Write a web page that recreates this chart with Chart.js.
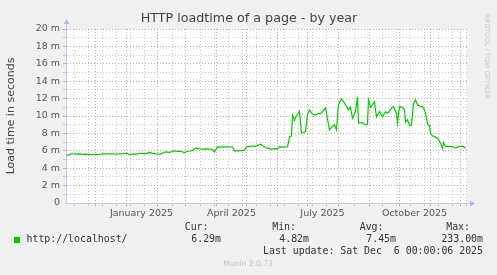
<!DOCTYPE html>
<html>
<head>
<meta charset="utf-8">
<script src="https://cdn.jsdelivr.net/npm/chart.js@4.4.0/dist/chart.umd.min.js"></script>
<style>
  html, body { margin: 0; padding: 0; background: #f0f0f0; }
  canvas { display: block; }
</style>
</head>
<body>
<canvas id="chart" width="497" height="275"></canvas>
<script>
// x = days since 1 Nov 2024, y = load time in milliseconds
const days = [
  1, 3, 5, 7, 10, 14, 17, 20, 24, 27, 30, 33, 37, 40, 44, 47, 50, 54, 57, 60,
  62, 64, 67, 70, 74, 77, 80, 84, 87, 90, 95, 98, 100, 104, 107, 109, 112, 114, 117, 119,
  122, 125, 128, 130, 134, 137, 141, 144, 147, 149, 150, 152, 156, 160, 164, 167, 169, 172, 175, 179,
  181, 184, 187, 190, 192, 195, 197, 198, 200, 202, 205, 207, 210, 212, 214, 218, 222, 224, 226, 227,
  229, 230, 232, 234, 236, 238, 240, 242, 244, 247, 250, 253, 255, 257, 260, 263, 264, 267, 269, 271,
  273, 276, 280, 283, 285, 287, 290, 292, 293, 297, 300, 302, 303, 305, 307, 309, 311, 314, 317, 320,
  322, 324, 326, 328, 331, 332, 334, 337, 339, 340, 342, 344, 346, 348, 350, 352, 355, 357, 359, 360,
  362, 364, 365, 367, 370, 373, 375, 377, 378, 380, 383, 387, 390, 394, 397, 400
];
const loadMs = [
  5.50, 5.50, 5.62, 5.66, 5.62, 5.64, 5.60, 5.62, 5.57, 5.55, 5.60, 5.55, 5.64, 5.66, 5.64, 5.66, 5.62, 5.66, 5.64, 5.72,
  5.70, 5.55, 5.65, 5.62, 5.68, 5.72, 5.65, 5.82, 5.70, 5.65, 5.62, 5.78, 5.88, 5.82, 5.95, 6.00, 5.92, 5.95, 5.88, 5.80,
  5.95, 5.98, 6.10, 6.30, 6.22, 6.20, 6.22, 6.20, 6.15, 5.88, 6.10, 6.45, 6.42, 6.44, 6.45, 6.44, 6.00, 6.00, 6.02, 6.05,
  6.45, 6.50, 6.55, 6.52, 6.62, 6.75, 6.60, 6.50, 6.40, 6.30, 6.20, 6.22, 6.25, 6.22, 6.45, 6.42, 6.45, 7.57, 7.70, 10.10,
  9.50, 9.80, 10.20, 10.50, 8.03, 8.10, 8.20, 10.20, 10.70, 10.20, 10.12, 10.30, 10.25, 10.50, 10.95, 9.00, 8.40, 8.80, 9.00, 8.40,
  11.30, 11.96, 11.30, 10.70, 11.00, 9.75, 10.50, 12.20, 9.20, 9.20, 9.00, 9.05, 11.85, 11.00, 11.30, 11.65, 9.90, 10.50, 9.90, 10.50,
  10.30, 10.60, 10.90, 11.10, 10.30, 9.20, 11.10, 11.00, 10.70, 9.30, 9.55, 8.95, 8.90, 11.47, 11.85, 11.27, 11.10, 11.10, 10.70, 10.30,
  9.10, 8.90, 8.03, 7.72, 7.57, 7.34, 6.88, 6.30, 6.95, 6.50, 6.50, 6.48, 6.30, 6.50, 6.55, 6.29
];

const monthLabels = ['January 2025', 'April 2025', 'July 2025', 'October 2025'];
const labelMonths = [[2025, 0], [2025, 3], [2025, 6], [2025, 9]];
const seriesName = 'http://localhost/';
const statNames = ['Cur:', 'Min:', 'Avg:', 'Max:'];
const statValues = ['6.29m', '4.82m', '7.45m', '233.00m'];
const lastUpdate = 'Last update: Sat Dec  6 00:00:06 2025';

const X_MIN = 0.5, X_MAX = 401.5;
const RED = 'rgba(230, 120, 120, 0.75)';
const GRAY = 'rgba(190, 190, 190, 0.8)';
const AXIS = '#c4c8f0';
const GREEN = '#00cc00';

const dayOf = (y, m, d) => (Date.UTC(y, m, d) - Date.UTC(2024, 10, 1)) / 864e5;

const monthStarts = [];
for (let i = 0; i < 14; i++) monthStarts.push(dayOf(2024, 10 + i, 1));
const labelPos = labelMonths.map(([y, m]) => dayOf(y, m, 1) + 15);

const xTicks = () => {
  const t = monthStarts.filter((v) => v > X_MIN && v < X_MAX);
  for (let v = 8.5; v < X_MAX; v += 14) {
    if (!monthStarts.some((m) => Math.abs(m - v) < 2)) t.push(v);
  }
  labelPos.forEach((v) => t.push(v));
  return t.sort((a, b) => a - b).map((value) => ({ value }));
};

const munin = {
  id: 'munin',
  beforeDraw(chart) {
    const { ctx, chartArea: a } = chart;
    ctx.save();
    ctx.fillStyle = '#ffffff';
    ctx.fillRect(a.left, a.top, a.right - a.left, a.bottom - a.top);
    ctx.restore();
  },
  afterDraw(chart) {
    const { ctx, chartArea: a } = chart;
    ctx.save();

    // title
    ctx.font = '12.7px "DejaVu Sans"';
    ctx.fillStyle = '#444';
    ctx.textAlign = 'center';
    ctx.textBaseline = 'middle';
    ctx.fillText('HTTP loadtime of a page - by year', 249, 19);

    // axis arrows
    ctx.strokeStyle = AXIS;
    ctx.lineWidth = 1;
    ctx.beginPath();
    ctx.moveTo(a.left + 0.5, a.top);
    ctx.lineTo(a.left + 0.5, a.top - 7);
    ctx.moveTo(a.right, a.bottom + 0.5);
    ctx.lineTo(a.right + 4, a.bottom + 0.5);
    ctx.stroke();
    ctx.fillStyle = '#b0b8f4';
    ctx.beginPath();
    ctx.moveTo(a.left - 2.5, a.top - 5);
    ctx.lineTo(a.left + 3.5, a.top - 5);
    ctx.lineTo(a.left + 0.5, a.top - 10);
    ctx.closePath();
    ctx.fill();
    ctx.beginPath();
    ctx.moveTo(a.right + 3, a.bottom - 2.5);
    ctx.lineTo(a.right + 3, a.bottom + 3.5);
    ctx.lineTo(a.right + 8, a.bottom + 0.5);
    ctx.closePath();
    ctx.fill();

    // watermark
    ctx.save();
    ctx.translate(487, 14);
    ctx.rotate(Math.PI / 2);
    ctx.font = '6.6px "DejaVu Sans"';
    ctx.fillStyle = '#c8c8c8';
    ctx.textAlign = 'left';
    ctx.textBaseline = 'middle';
    ctx.fillText('RRDTOOL / TOBI OETIKER', 0, 0);
    ctx.restore();

    // legend
    ctx.font = '9.9px "DejaVu Sans Mono"';
    ctx.fillStyle = '#333';
    ctx.textAlign = 'right';
    ctx.textBaseline = 'middle';
    const headRight = [208.5, 296, 383.5, 470];
    const valRight = [221, 309, 396, 483];
    statNames.forEach((s, i) => ctx.fillText(s, headRight[i], 227.5));
    statValues.forEach((s, i) => ctx.fillText(s, valRight[i], 239.5));
    ctx.fillText(lastUpdate, 483, 251.8);
    ctx.textAlign = 'left';
    ctx.fillText(seriesName, 26.5, 239.5);
    ctx.fillStyle = GREEN;
    ctx.fillRect(14, 237, 6, 6);

    ctx.font = '7.6px "DejaVu Sans"';
    ctx.fillStyle = '#c4c4c4';
    ctx.textAlign = 'center';
    ctx.fillText('Munin 2.0.73', 248, 264);
    ctx.restore();
  }
};

new Chart(document.getElementById('chart'), {
  type: 'line',
  data: {
    datasets: [{
      label: seriesName,
      data: days.map((d, i) => ({ x: d, y: loadMs[i] })),
      borderColor: GREEN,
      borderWidth: 1.2,
      pointRadius: 0,
      tension: 0,
      fill: false
    }]
  },
  options: {
    responsive: false,
    devicePixelRatio: 1,
    animation: false,
    layout: { padding: { top: 29, right: 30, left: 0, bottom: 0 } },
    plugins: { legend: { display: false }, tooltip: { enabled: false } },
    scales: {
      x: {
        type: 'linear',
        min: X_MIN,
        max: X_MAX,
        afterBuildTicks: (scale) => { scale.ticks = xTicks(); },
        afterFit: (scale) => { scale.height = 72; },
        ticks: {
          autoSkip: false,
          maxRotation: 0,
          padding: 2,
          color: '#555',
          font: { family: 'DejaVu Sans', size: 9.5 },
          callback: (v) => {
            const i = labelPos.indexOf(v);
            return i >= 0 ? monthLabels[i] : '';
          }
        },
        grid: {
          tickLength: 3,
          color: (c) => {
            const v = c.tick && c.tick.value;
            if (labelPos.includes(v)) return 'transparent';
            return monthStarts.includes(v) ? RED : GRAY;
          }
        },
        border: { color: AXIS, dash: [1, 2] }
      },
      y: {
        min: 0,
        max: 20,
        afterFit: (scale) => { scale.width = 66; },
        ticks: {
          stepSize: 1,
          autoSkip: false,
          padding: 3,
          color: '#555',
          font: { family: 'DejaVu Sans', size: 9.5 },
          callback: (v) => (v === 0 ? '0' : v % 2 === 0 ? v + ' m' : '')
        },
        grid: {
          tickLength: 3,
          color: (c) => {
            const v = c.tick && c.tick.value;
            if (v === 0) return 'transparent';
            return v % 2 === 0 ? RED : GRAY;
          }
        },
        border: { color: AXIS, dash: [1, 2] },
        title: {
          display: true,
          text: 'Load time in seconds',
          color: '#444',
          padding: { top: 4.5, bottom: 0 },
          font: { family: 'DejaVu Sans', size: 11 }
        }
      }
    }
  },
  plugins: [munin]
});
</script>
</body>
</html>
